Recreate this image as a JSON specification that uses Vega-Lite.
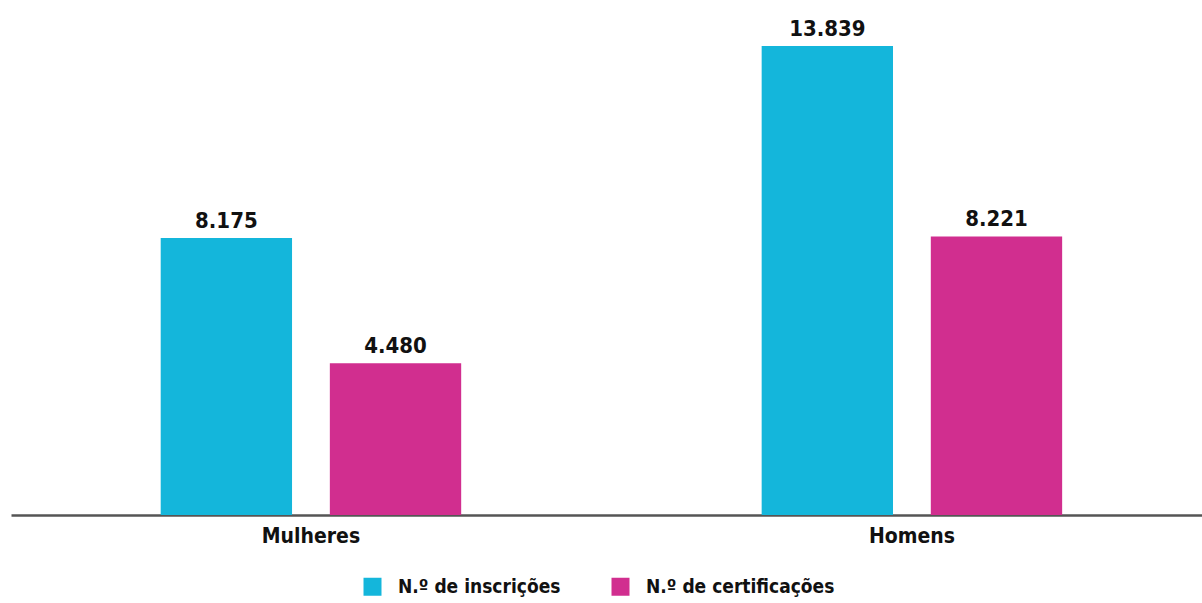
{
  "$schema": "https://vega.github.io/schema/vega-lite/v6.json",
  "autosize": "none",
  "width": 1191,
  "height": 515,
  "padding": {"left": 11, "top": 0, "right": 0, "bottom": 88},
  "background": "white",
  "config": {
    "view": {"stroke": null},
    "font": "DejaVu Sans Condensed, sans-serif"
  },
  "data": {
    "values": [
      {"sexo": "Mulheres", "serie": "N.º de inscrições", "valor": 8175, "rotulo": "8.175"},
      {"sexo": "Mulheres", "serie": "N.º de certificações", "valor": 4480, "rotulo": "4.480"},
      {"sexo": "Homens", "serie": "N.º de inscrições", "valor": 13839, "rotulo": "13.839"},
      {"sexo": "Homens", "serie": "N.º de certificações", "valor": 8221, "rotulo": "8.221"}
    ]
  },
  "encoding": {
    "x": {
      "field": "sexo", "type": "nominal", "sort": ["Mulheres", "Homens"],
      "scale": {"paddingInner": 0.5, "paddingOuter": 0.2409, "align": 0.517},
      "axis": {
        "title": null, "ticks": false, "labelAngle": 0,
        "domainColor": "#555555", "domainWidth": 2.5,
        "labelFont": "DejaVu Sans Condensed, sans-serif",
        "labelFontSize": 21, "labelFontWeight": "bold", "labelColor": "#111111",
        "labelPadding": 10, "labelLimit": 0
      }
    },
    "xOffset": {
      "field": "serie", "type": "nominal",
      "sort": ["N.º de inscrições", "N.º de certificações"],
      "scale": {"paddingInner": 0.2235, "paddingOuter": 0}
    },
    "y": {
      "field": "valor", "type": "quantitative",
      "scale": {"domain": [0, 15196], "nice": false},
      "axis": null
    }
  },
  "layer": [
    {
      "mark": {"type": "bar"},
      "encoding": {
        "color": {
          "field": "serie", "type": "nominal",
          "sort": ["N.º de inscrições", "N.º de certificações"],
          "scale": {"domain": ["N.º de inscrições", "N.º de certificações"], "range": ["#14B6DB", "#D12E8F"]},
          "legend": {
            "title": null, "orient": "none", "direction": "horizontal",
            "legendX": 352, "legendY": 577,
            "symbolType": "square", "symbolSize": 324, "symbolStrokeWidth": 0,
            "labelFont": "DejaVu Sans Condensed, sans-serif",
            "labelFontSize": 19, "labelFontWeight": "bold", "labelColor": "#111111",
            "labelOffset": 16, "columnPadding": 50, "labelLimit": 0
          }
        }
      }
    },
    {
      "mark": {
        "type": "text", "baseline": "alphabetic", "dy": -10,
        "font": "DejaVu Sans Condensed, sans-serif",
        "fontSize": 22, "fontWeight": "bold", "color": "#111111"
      },
      "encoding": {
        "text": {"field": "rotulo", "type": "nominal"}
      }
    }
  ]
}
